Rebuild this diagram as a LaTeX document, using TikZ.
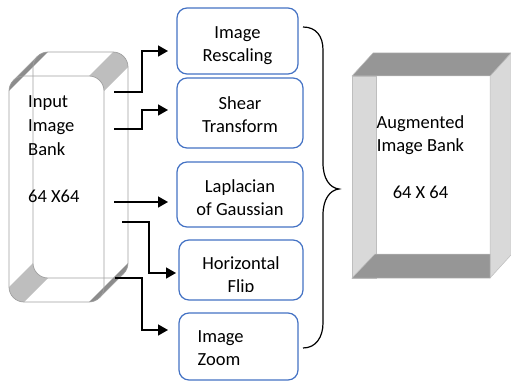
\documentclass[tikz,border=0pt]{standalone}
\usepackage{fontspec}
\setmainfont{Carlito}
\usetikzlibrary{arrows.meta}
\definecolor{boxblue}{RGB}{68,114,196}
\definecolor{bankline}{RGB}{160,160,160}
\definecolor{bevelwide}{RGB}{190,190,190}
\definecolor{bevelthin}{RGB}{140,140,140}
\definecolor{walldark}{RGB}{150,150,150}
\definecolor{walllight}{RGB}{217,217,217}
\definecolor{walledge}{RGB}{190,190,190}
\begin{document}
\begin{tikzpicture}[x=1pt,y=1pt,
  procbox/.style={draw=boxblue, line width=1.2pt, rounded corners=10pt, fill=white},
  boxtext/.style={font=\fontsize{18.5}{23}\selectfont, text=black, align=center, inner sep=0pt},
  feed/.style={line width=1.6pt, -{Triangle[length=10pt,width=11pt]}},
  brace/.style={line width=1.2pt},
]
\useasboundingbox (0,0) rectangle (511,381);

% ---- input image bank: extruded rounded box (front and back faces) ----
% swept surfaces of the rounded corners
\fill[bevelwide] (104,290) arc[start angle=0,end angle=90,radius=15]
  -- (113,329) arc[start angle=90,end angle=0,radius=15] -- cycle;
\fill[bevelwide] (9,94) arc[start angle=180,end angle=270,radius=15]
  -- (48,103) arc[start angle=270,end angle=180,radius=15] -- cycle;
\fill[bevelthin] (9,290) arc[start angle=180,end angle=135,radius=15]
  -- (37.39,324.61) arc[start angle=135,end angle=90,radius=15] -- cycle;
\fill[bevelthin] (128,118) arc[start angle=0,end angle=-45,radius=15]
  -- (99.61,83.39) arc[start angle=-45,end angle=-90,radius=15] -- cycle;
% face outlines
\draw[bankline, line width=0.7pt, rounded corners=15pt] (9,79) rectangle (104,305);
\draw[bankline, line width=0.7pt, rounded corners=15pt] (33,103) rectangle (128,329);
\draw[bankline, line width=0.7pt] (13.39,300.61) -- (37.39,324.61);
\draw[bankline, line width=0.7pt] (99.61,83.39) -- (123.61,107.39);
\node[boxtext, align=left, anchor=west, font=\fontsize{18.5}{23.75}\selectfont]
  (inlabel) at (28,231.5) {Input\\Image\\Bank\\[23.75pt]64 X64};

% ---- augmentation steps ----
\node[procbox, minimum width=121pt, minimum height=66pt] (b1) at (237.5,340) {};
\node[boxtext] (t1) at ([yshift=-4.5pt]b1.center) {Image\\Rescaling};
\node[procbox, minimum width=126pt, minimum height=70pt] (b2) at (240,268) {};
\node[boxtext] (t2) at ([yshift=-1.5pt]b2.center) {Shear\\Transform};
\node[procbox, minimum width=126pt, minimum height=65pt] (b3) at (240,186.5) {};
\node[boxtext] (t3) at ([yshift=-3pt]b3.center) {Laplacian\\of Gaussian};
\node[procbox, minimum width=124pt, minimum height=60pt] (b4) at (241,111) {};
\begin{scope}
  \clip (179,89.5) rectangle (303,141);
  \node[boxtext] (t4) at ([yshift=-6.5pt]b4.center) {Horizontal\\Flip};
\end{scope}
\node[procbox, minimum width=119pt, minimum height=67pt] (b5) at (238.5,34.5) {};
\node[boxtext, align=left, anchor=west] (t5) at ([xshift=19pt,yshift=-2pt]b5.west) {Image\\Zoom};

% ---- feeds from the bank to each step ----
\coordinate (s1) at (114,289); \coordinate (e1) at (168,330);
\coordinate (s2) at (114,252); \coordinate (e2) at (168,271);
\coordinate (s3) at (114,179); \coordinate (e3) at (168,179);
\coordinate (s4) at (122,159); \coordinate (e4) at (176,108);
\coordinate (s5) at (115,103); \coordinate (e5) at (168,51);
\draw[feed] (s1) -- ++(28,0) |- (e1);
\draw[feed] (s2) -- ++(28,0) |- (e2);
\draw[feed] (s3) -- (e3);
\draw[feed] (s4) -- ++(27,0) |- (e4);
\draw[feed] (s5) -- ++(27,0) |- (e5);

% ---- brace gathering the steps ----
\draw[brace] (303,354) .. controls (316,354) and (323,345) .. (323,331)
  -- (323,218) .. controls (323,202) and (330,193) .. (339,192)
  .. controls (330,191) and (323,182) .. (323,166)
  -- (323,58) .. controls (323,44) and (316,33) .. (303,33);

% ---- augmented image bank: open box ----
\fill[walllight, draw=walledge, line width=0.5pt] (352,305) rectangle (376,103);
\fill[walllight, draw=walledge, line width=0.5pt] (490,305) -- (511,328) -- (511,126) -- (490,103) -- cycle;
\fill[walldark, draw=walledge, line width=0.5pt] (352,305) -- (373,328) -- (511,328) -- (490,305) -- cycle;
\fill[walldark, draw=walledge, line width=0.5pt] (352,103) -- (375,127) -- (490,127) -- (490,103) -- cycle;
\node[boxtext, font=\fontsize{18.5}{23.5}\selectfont] (outlabel) at (420.5,224)
  {Augmented\\Image Bank\\[23.5pt]64 X 64};
\end{tikzpicture}
\end{document}
